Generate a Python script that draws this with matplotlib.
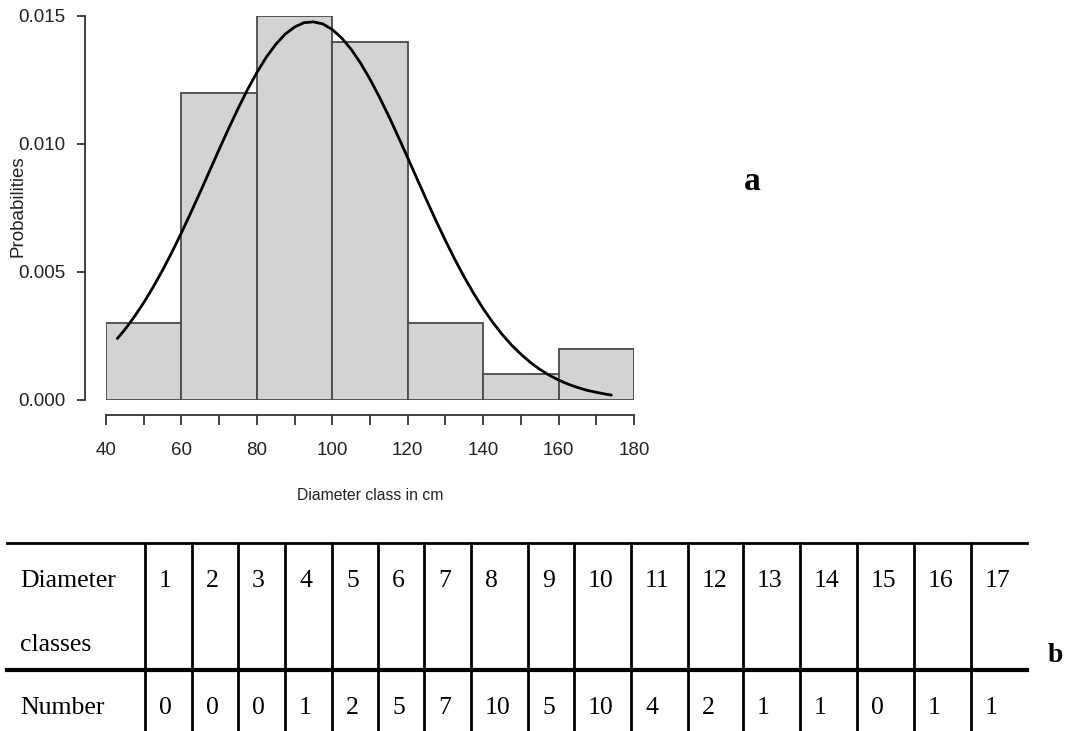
import matplotlib.pyplot as plt

# histogram (class edges in cm, probability density)
bin_left = [40, 60, 80, 100, 120, 140, 160]
bin_width = 20
density = [0.003, 0.012, 0.015, 0.014, 0.003, 0.001, 0.002]

# fitted curve
curve_x = [43, 45, 47.5, 50, 52.5, 55, 57.5, 60, 62.5, 65, 67.5, 70, 72.5,
           75, 77.5, 80, 82.5, 85, 87.5, 90, 92.5, 95, 97.5, 100, 102.5,
           105, 107.5, 110, 112.5, 115, 117.5, 120, 122.5, 125, 127.5, 130,
           132.5, 135, 137.5, 140, 142.5, 145, 147.5, 150, 152.5, 155, 157.5,
           160, 162.5, 165, 167.5, 170, 172.5, 174]
curve_y = [0.00240, 0.00275, 0.00325, 0.00380, 0.00441, 0.00507, 0.00578,
           0.00653, 0.00732, 0.00813, 0.00896, 0.00979, 0.01060, 0.01138,
           0.01212, 0.01279, 0.01339, 0.01389, 0.01429, 0.01457, 0.01474,
           0.01477, 0.01469, 0.01447, 0.01414, 0.01370, 0.01316, 0.01253,
           0.01183, 0.01108, 0.01028, 0.00946, 0.00863, 0.00781, 0.00700,
           0.00623, 0.00549, 0.00480, 0.00416, 0.00357, 0.00304, 0.00257,
           0.00215, 0.00179, 0.00147, 0.00120, 0.00097, 0.00078, 0.00062,
           0.00049, 0.00038, 0.00030, 0.00023, 0.00019]

# table b
classes = [str(i) for i in range(1, 18)]
numbers = [0, 0, 0, 1, 2, 5, 7, 10, 5, 10, 4, 2, 1, 1, 0, 1, 1]

W, H = 1071, 731
fig = plt.figure(figsize=(W / 100, H / 100), dpi=100)

sans = ['Liberation Sans', 'DejaVu Sans']
serif = ['Liberation Serif', 'DejaVu Serif']

# ---- panel a ----
ax = fig.add_axes([106 / W, (H - 400) / H, 528 / W, 384 / H])
ax.bar(bin_left, density, width=bin_width, align='edge',
       color='#d3d3d3', edgecolor='#4a4a4a', linewidth=1.3)
ax.plot(curve_x, curve_y, color='black', linewidth=2.0,
        solid_joinstyle='round', solid_capstyle='round')
ax.set_xlim(40, 180)
ax.set_ylim(0, 0.015)

for s in ['top', 'right']:
    ax.spines[s].set_visible(False)
ax.spines['left'].set_position(('outward', 15))
ax.spines['bottom'].set_position(('outward', 11))
ax.spines['left'].set_bounds(0, 0.015)
ax.spines['bottom'].set_bounds(40, 180)
for s in ['left', 'bottom']:
    ax.spines[s].set_color('#333333')
    ax.spines[s].set_linewidth(1.3)

ax.set_xticks(range(40, 181, 20))
ax.set_xticks(range(50, 180, 20), minor=True)
ax.set_yticks([0, 0.005, 0.010, 0.015])
ax.set_yticklabels(['0.000', '0.005', '0.010', '0.015'])
ax.tick_params(axis='x', which='both', length=7, width=1.3, color='#333333',
               pad=12)
ax.tick_params(axis='y', length=6, width=1.3, color='#333333', pad=8)
for lab in ax.get_xticklabels() + ax.get_yticklabels():
    lab.set_family(sans)
    lab.set_fontsize(13.5)
    lab.set_color('#222222')

fig.text(370 / W, 1 - 495 / H, 'Diameter class in cm', ha='center',
         va='center', fontsize=11.3, family=sans, color='#222222')
fig.text(18 / W, 1 - 206 / H, 'Probabilities', ha='center', va='center',
         rotation=90, fontsize=13.5, family=sans, color='#222222')
fig.text(752 / W, 1 - 182 / H, 'a', ha='center', va='center',
         fontsize=24, fontweight='bold', family=serif)

# ---- panel b (table) ----
tb = fig.add_axes([0, 0, 1, 1])
tb.set_xlim(0, W)
tb.set_ylim(H, 0)
tb.axis('off')

col_lines = [145, 192, 238, 285, 332, 378, 424, 471, 528, 574, 631, 688,
             743, 800, 857, 914, 971]
tb.plot([7, 1027], [543, 543], color='black', linewidth=2.0)
tb.plot([7, 1027], [670, 670], color='black', linewidth=3.0)
for xl in col_lines:
    tb.plot([xl, xl], [543, H], color='black', linewidth=2.0)

fs = 18.5
tb.text(20, 581, 'Diameter', fontsize=fs, family=serif, va='center')
tb.text(20, 645, 'classes', fontsize=fs, family=serif, va='center')
tb.text(20, 708, 'Number', fontsize=fs, family=serif, va='center')
for xl, c, n in zip(col_lines, classes, numbers):
    tb.text(xl + 14, 581, c, fontsize=fs, family=serif, va='center')
    tb.text(xl + 14, 708, str(n), fontsize=fs, family=serif, va='center')

fig.text(1055 / W, 1 - 655 / H, 'b', ha='center', va='center',
         fontsize=20, fontweight='bold', family=serif)

fig.savefig('out.png', dpi=100)
